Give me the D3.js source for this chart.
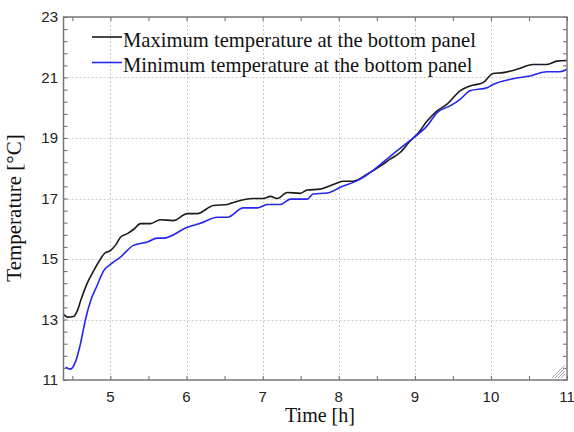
<!DOCTYPE html>
<html lang="en">
<head>
<meta charset="UTF-8">
<title>Bottom panel temperature</title>
<script src="https://d3js.org/d3.v7.min.js"></script>
<style>
body { margin: 0; background: #fff; }
svg { display: block; }
.tick-label { font-family: "Liberation Sans", Arial, sans-serif; font-size: 15px; fill: #222; }
.title { font-family: "Liberation Serif", "Times New Roman", serif; font-size: 20px; fill: #111; }
.grid line { stroke: #cacaca; stroke-dasharray: 2,2; stroke-width: 1; }
</style>
</head>
<body>
<script>
// data (time in hours, temperature in °C)
var timeMax = [4.383, 4.435, 4.514, 4.567, 4.606, 4.698, 4.777, 4.869, 4.921, 5.0, 5.079, 5.131, 5.223, 5.315, 5.394,
  5.525, 5.656, 5.827, 6.011, 6.142, 6.352, 6.536, 6.615, 6.877, 7.009, 7.101, 7.193, 7.324, 7.494, 7.586, 7.757,
  7.928, 8.059, 8.19, 8.374, 8.545, 8.676, 8.807, 8.939, 9.03, 9.162, 9.293, 9.424, 9.595, 9.726, 9.897, 10.028,
  10.16, 10.343, 10.553, 10.737, 10.868, 11.0];
var tempMax = [13.17, 13.08, 13.1, 13.3, 13.6, 14.22, 14.6, 15.0, 15.18, 15.28, 15.5, 15.72, 15.84, 16.0, 16.17,
  16.17, 16.3, 16.27, 16.5, 16.5, 16.77, 16.8, 16.87, 17.0, 17.0, 17.07, 17.0, 17.2, 17.17, 17.28, 17.31,
  17.46, 17.57, 17.57, 17.8, 18.07, 18.3, 18.52, 18.9, 19.12, 19.56, 19.9, 20.12, 20.56, 20.72, 20.83, 21.13,
  21.16, 21.27, 21.43, 21.43, 21.54, 21.56];

var timeMin = [4.409, 4.475, 4.54, 4.606, 4.672, 4.737, 4.829, 4.908, 5.0, 5.131, 5.302, 5.486, 5.617, 5.696,
  6.011, 6.182, 6.405, 6.536, 6.746, 6.93, 7.061, 7.232, 7.363, 7.586, 7.665, 7.849, 8.02, 8.282, 8.413, 8.584,
  8.768, 8.978, 9.162, 9.293, 9.464, 9.595, 9.726, 9.95, 10.028, 10.291, 10.514, 10.737, 10.908, 11.0];
var tempMin = [11.42, 11.36, 11.6, 12.2, 13.0, 13.6, 14.15, 14.6, 14.82, 15.06, 15.45, 15.56, 15.69, 15.69,
  16.05, 16.18, 16.38, 16.38, 16.69, 16.69, 16.8, 16.8, 16.98, 16.98, 17.15, 17.18, 17.37, 17.64, 17.86, 18.2,
  18.58, 19.0, 19.4, 19.84, 20.06, 20.28, 20.56, 20.66, 20.77, 20.96, 21.05, 21.19, 21.19, 21.27];

var xTicks = [5, 6, 7, 8, 9, 10, 11];
var yTicks = [11, 13, 15, 17, 19, 21, 23];
var seriesNames = ['Maximum temperature at the bottom panel', 'Minimum temperature at the bottom panel'];
var seriesColors = ['#1a1a1a', '#2626ee'];

var width = 574, height = 432;
var plot = {left: 63.5, right: 567, top: 17, bottom: 380};

var svg = d3.select('body').append('svg')
  .attr('width', width)
  .attr('height', height);

var x = d3.scaleLinear().domain([4.383, 11]).range([plot.left, plot.right]);
var y = d3.scaleLinear().domain([11, 23]).range([plot.bottom, plot.top]);

// dotted grid
var grid = svg.append('g').attr('class', 'grid');
grid.selectAll('.gx').data(xTicks.slice(0, -1)).enter().append('line')
  .attr('x1', function(d){ return Math.round(x(d)) + 0.5; })
  .attr('x2', function(d){ return Math.round(x(d)) + 0.5; })
  .attr('y1', plot.top).attr('y2', plot.bottom);
grid.selectAll('.gy').data(yTicks.slice(1, -1)).enter().append('line')
  .attr('x1', plot.left).attr('x2', plot.right)
  .attr('y1', function(d){ return Math.round(y(d)) + 0.5; })
  .attr('y2', function(d){ return Math.round(y(d)) + 0.5; });

// curves
var line = d3.line()
  .x(function(d){ return x(d[0]); })
  .y(function(d){ return y(d[1]); })
  .curve(d3.curveMonotoneX);

var series = [d3.zip(timeMax, tempMax), d3.zip(timeMin, tempMin)];
svg.selectAll('.curve').data(series).enter().append('path')
  .attr('class', 'curve')
  .attr('fill', 'none')
  .attr('stroke', function(d, i){ return seriesColors[i]; })
  .attr('stroke-width', 1.6)
  .attr('d', line);

// frame with inward ticks
var minorX = d3.range(4.5, 11.01, 0.5);
var minorY = d3.range(0, 31).map(function(i){ return 11 + i * 0.4; });

svg.append('g')
  .attr('transform', 'translate(0,' + plot.bottom + ')')
  .call(d3.axisBottom(x).tickValues(minorX).tickSize(-4).tickFormat(''))
  .call(function(g){ g.select('.domain').remove(); });
svg.append('g')
  .attr('transform', 'translate(0,' + plot.top + ')')
  .call(d3.axisTop(x).tickValues(minorX).tickSize(-4).tickFormat(''))
  .call(function(g){ g.select('.domain').remove(); });
svg.append('g')
  .attr('transform', 'translate(' + plot.left + ',0)')
  .call(d3.axisLeft(y).tickValues(minorY).tickSize(-4).tickFormat(''))
  .call(function(g){ g.select('.domain').remove(); });
svg.append('g')
  .attr('transform', 'translate(' + plot.right + ',0)')
  .call(d3.axisRight(y).tickValues(minorY).tickSize(-4).tickFormat(''))
  .call(function(g){ g.select('.domain').remove(); });
svg.selectAll('.tick line').attr('stroke', '#666');

svg.append('rect')
  .attr('x', plot.left).attr('y', plot.top)
  .attr('width', plot.right - plot.left).attr('height', plot.bottom - plot.top)
  .attr('fill', 'none').attr('stroke', '#777').attr('stroke-width', 1.5);

// little resize grip in the corner
svg.append('g').selectAll('line').data([4, 7, 10, 13]).enter().append('line')
  .attr('x1', function(d){ return plot.right - 2 - d; }).attr('y1', plot.bottom - 2)
  .attr('x2', plot.right - 2).attr('y2', function(d){ return plot.bottom - 2 - d; })
  .attr('stroke', '#aaa').attr('stroke-width', 1);

// tick labels
svg.selectAll('.xl').data(xTicks).enter().append('text')
  .attr('class', 'tick-label')
  .attr('x', function(d){ return x(d); })
  .attr('y', 402)
  .attr('text-anchor', 'middle')
  .text(function(d){ return d; });
svg.selectAll('.yl').data(yTicks).enter().append('text')
  .attr('class', 'tick-label')
  .attr('x', 58)
  .attr('y', function(d){ return y(d) + 5; })
  .attr('text-anchor', 'end')
  .text(function(d){ return d; });

// axis titles
svg.append('text').attr('class', 'title')
  .attr('x', 320).attr('y', 422)
  .attr('text-anchor', 'middle')
  .text('Time [h]');
svg.append('text').attr('class', 'title')
  .attr('transform', 'translate(21,208) rotate(-90)')
  .attr('text-anchor', 'middle')
  .style('font-size', '21px')
  .text('Temperature [°C]');

// legend
var legend = svg.selectAll('.legend').data(seriesNames).enter().append('g')
  .attr('transform', function(d, i){ return 'translate(92,' + (37 + i * 25.5) + ')'; });
legend.append('line')
  .attr('x1', 0).attr('x2', 30)
  .attr('stroke', function(d, i){ return seriesColors[i]; })
  .attr('stroke-width', 1.6);
legend.append('text').attr('class', 'title')
  .attr('x', 31).attr('y', 9.5)
  .style('font-size', '20.6px')
  .text(function(d){ return d; });
</script>
</body>
</html>
